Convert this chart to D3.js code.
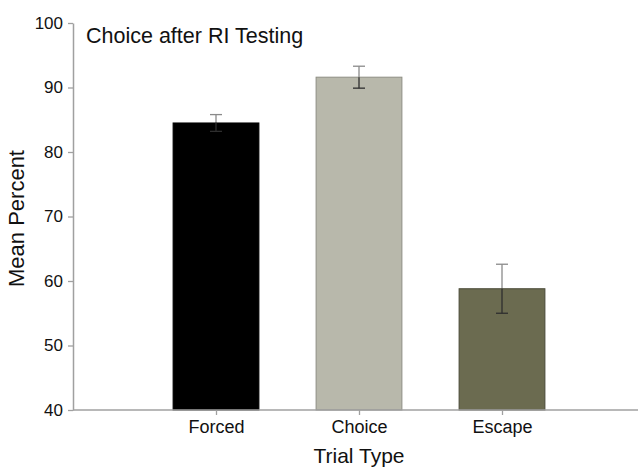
<!DOCTYPE html>
<html>
<head>
<meta charset="utf-8">
<script src="https://cdn.jsdelivr.net/npm/d3@7"></script>
<style>
  html, body { margin: 0; padding: 0; background: #fff; }
  svg { display: block; font-family: "Liberation Sans", Arial, sans-serif; }
</style>
</head>
<body>
<script>
const categories = ["Forced", "Choice", "Escape"];
const means = [84.5, 91.6, 58.8];
const errors = [1.3, 1.7, 3.8];
const fills = ["#000000", "#b8b8ab", "#6b6b50"];
const strokes = ["#000000", "#8e8e84", "#4a4a38"];
const yTicks = [40, 50, 60, 70, 80, 90, 100];

const W = 639, H = 468;
const svg = d3.select("body").append("svg").attr("width", W).attr("height", H);

const x0 = 73, x1 = 645, yTop = 23, yBot = 410;
const x = d3.scalePoint().domain(categories).range([x0, x1]).padding(1);
const y = d3.scaleLinear().domain([40, 100]).range([yBot, yTop]);
const bw = x.step() * 0.6;

const data = categories.map((c, i) => ({ c, m: means[i], e: errors[i], f: fills[i], s: strokes[i] }));

// upper error half
const eb = svg.append("g");
data.forEach(d => {
  const cx = x(d.c);
  eb.append("line").attr("x1", cx).attr("x2", cx).attr("y1", y(d.m + d.e)).attr("y2", y(d.m))
    .attr("stroke", "#8a8a8a").attr("stroke-width", 1.3);
  eb.append("line").attr("x1", cx - 6).attr("x2", cx + 6).attr("y1", y(d.m + d.e)).attr("y2", y(d.m + d.e))
    .attr("stroke", "#8a8a8a").attr("stroke-width", 1.3);
});

svg.append("g").selectAll("rect").data(data).join("rect")
  .attr("x", d => x(d.c) - bw / 2)
  .attr("y", d => y(d.m))
  .attr("width", bw)
  .attr("height", d => y(40) - y(d.m))
  .attr("fill", d => d.f)
  .attr("stroke", d => d.s)
  .attr("stroke-width", 1);

// lower error half inside bars
const eb2 = svg.append("g");
data.forEach(d => {
  const cx = x(d.c);
  eb2.append("line").attr("x1", cx).attr("x2", cx).attr("y1", y(d.m)).attr("y2", y(d.m - d.e))
    .attr("stroke", "#2e2e2e").attr("stroke-width", 1.3);
  eb2.append("line").attr("x1", cx - 6).attr("x2", cx + 6).attr("y1", y(d.m - d.e)).attr("y2", y(d.m - d.e))
    .attr("stroke", "#2e2e2e").attr("stroke-width", 1.3);
});

const font = '"Liberation Sans", Arial, sans-serif';

// y axis
const yAxis = svg.append("g").attr("transform", `translate(${x0},0)`)
  .call(d3.axisLeft(y).tickValues(yTicks).tickSize(5).tickPadding(5).tickSizeOuter(0));
yAxis.select(".domain").attr("stroke", "#a0a0a0").attr("stroke-width", 1.5);
yAxis.selectAll(".tick line").attr("stroke", "#a0a0a0").attr("stroke-width", 1.3);
yAxis.selectAll(".tick text").attr("fill", "#111").style("font-size", "17px").style("font-family", font);

// x axis
const xAxis = svg.append("g").attr("transform", `translate(0,${yBot})`)
  .call(d3.axisBottom(x).tickSize(5).tickPadding(5).tickSizeOuter(0));
xAxis.select(".domain").attr("d", `M${x0},0H638`).attr("stroke", "#a0a0a0").attr("stroke-width", 1.5);
xAxis.selectAll(".tick line").attr("stroke", "#a0a0a0").attr("stroke-width", 1.3);
xAxis.selectAll(".tick text").attr("fill", "#111").style("font-size", "18px").style("font-family", font);

// title
svg.append("text").attr("x", 86).attr("y", 43).attr("fill", "#111")
  .style("font-size", "21.5px").text("Choice after RI Testing");

// axis labels
svg.append("text").attr("transform", `translate(24,${(yTop + yBot) / 2 + 2}) rotate(-90)`)
  .attr("text-anchor", "middle").attr("fill", "#111").style("font-size", "22px").text("Mean Percent");
svg.append("text").attr("x", x("Choice")).attr("y", 463).attr("text-anchor", "middle")
  .attr("fill", "#111").style("font-size", "21px").text("Trial Type");
</script>
</body>
</html>
